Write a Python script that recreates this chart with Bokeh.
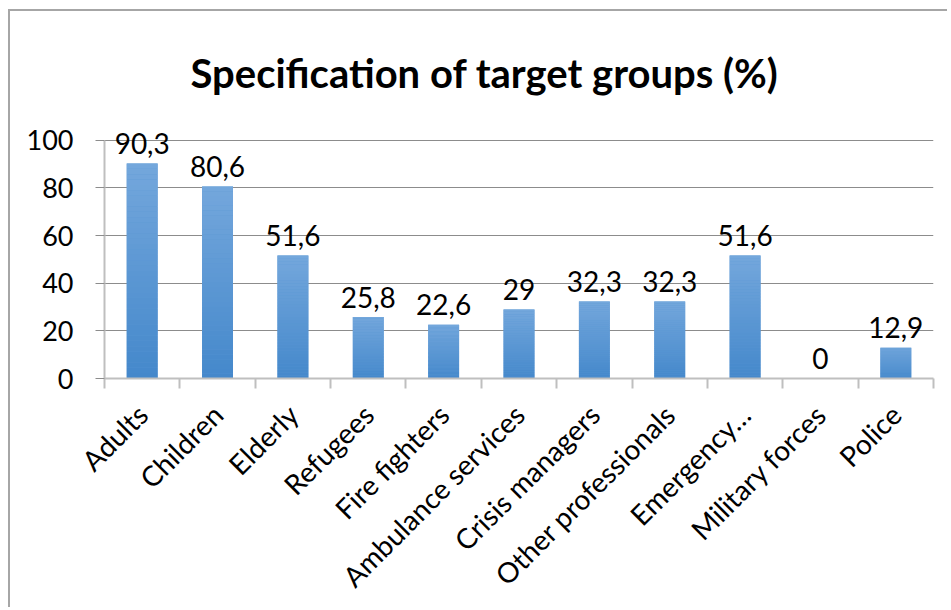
import math
from bokeh.plotting import figure
from bokeh.models import Range1d, FixedTicker, ColumnDataSource
from bokeh.core.properties import value
from bokeh.embed import file_html
from bokeh.resources import INLINE

# ---- data ----
categories = ["Adults", "Children", "Elderly", "Refugees", "Fire fighters",
              "Ambulance services", "Crisis managers", "Other professionals",
              "Emergency…", "Military forces", "Police"]
values = [90.3, 80.6, 51.6, 25.8, 22.6, 29, 32.3, 32.3, 51.6, 0, 12.9]
value_labels = ["90,3", "80,6", "51,6", "25,8", "22,6", "29", "32,3", "32,3", "51,6", "0", "12,9"]
y_ticks = [0, 20, 40, 60, 80, 100]
title_text = "Specification of target groups (%)"

FONT = "Lato"
n = len(categories)
centers = [i + 0.5 for i in range(n)]
boundaries = list(range(n + 1))

p = figure(width=939, height=598, output_backend="svg", toolbar_location=None,
           x_range=Range1d(0, n), y_range=Range1d(0, 110),
           min_border_left=94, min_border_right=16,
           min_border_top=105, min_border_bottom=231)
p.margin = (9, 0, 0, 8)
p.styles = {"border-left": "2px solid #a6a6a6", "border-top": "2px solid #a6a6a6"}
p.outline_line_color = None
p.background_fill_color = "white"
p.border_fill_color = "white"

# title
p.title.text = title_text
p.title.text_font = FONT
p.title.text_font_size = "40px"
p.title.text_font_style = "bold"
p.title.text_color = "black"
p.title.align = "left"
p.title.offset = 86
p.title.standoff = 40

# base bars (mid colour) under a vertical gradient made of slices of each value
BAR_W = 0.41
p.vbar(x=centers, top=values, width=BAR_W, fill_color="#5b97d3", line_color=None)

N = 40
top_c = (0x74, 0xA7, 0xDC)
bot_c = (0x44, 0x88, 0xCB)
xs, bottoms, tops, cols = [], [], [], []
for xc, v in zip(centers, values):
    if v <= 0:
        continue
    for k in range(N):
        t = (k + 0.5) / N
        c = tuple(int(round(bot_c[j] + (top_c[j] - bot_c[j]) * t)) for j in range(3))
        xs.append(xc)
        bottoms.append(v * k / N)
        tops.append(v * (k + 1) / N)
        cols.append("#%02x%02x%02x" % c)
src = ColumnDataSource(dict(x=xs, bottom=bottoms, top=tops, color=cols))
p.vbar(x="x", bottom="bottom", top="top", width=BAR_W, source=src,
       fill_color="color", line_color=None)

# data labels
lab = ColumnDataSource(dict(x=centers, y=values, t=value_labels))
p.text(x="x", y="y", text="t", source=lab, text_align="center",
       text_baseline="alphabetic", y_offset=-20,
       text_font=value(FONT), text_font_size="28px", text_color="black")

# y axis
p.yaxis.ticker = FixedTicker(ticks=y_ticks)
p.yaxis.bounds = (0, 100)
p.yaxis.axis_line_color = "#bfbfbf"
p.yaxis.axis_line_width = 2
p.yaxis.major_tick_out = 9
p.yaxis.major_tick_in = 0
p.yaxis.major_tick_line_color = "#8c8c8c"
p.yaxis.minor_tick_line_color = None
p.yaxis.major_label_text_font = FONT
p.yaxis.major_label_text_font_size = "27px"
p.yaxis.major_label_text_color = "black"
p.yaxis.major_label_standoff = 22

# x axis: labels at centers, ticks at boundaries
p.xaxis.ticker = FixedTicker(ticks=centers, minor_ticks=boundaries)
p.xaxis.major_label_overrides = {c: name for c, name in zip(centers, categories)}
p.xaxis.major_tick_line_color = None
p.xaxis.minor_tick_out = 10
p.xaxis.minor_tick_in = 0
p.xaxis.minor_tick_line_color = "#bfbfbf"
p.xaxis.minor_tick_line_width = 2
p.xaxis.axis_line_color = "#bfbfbf"
p.xaxis.axis_line_width = 2
p.xaxis.major_label_orientation = math.pi / 4
p.xaxis.major_label_text_font = FONT
p.xaxis.major_label_text_font_size = "28px"
p.xaxis.major_label_text_color = "black"
p.xaxis.major_label_standoff = 21

# grid
p.xgrid.visible = False
p.ygrid.ticker = FixedTicker(ticks=y_ticks)
p.ygrid.grid_line_color = "#8c8c8c"
p.ygrid.grid_line_width = 1

open("out.html", "w").write(file_html(p, INLINE))
